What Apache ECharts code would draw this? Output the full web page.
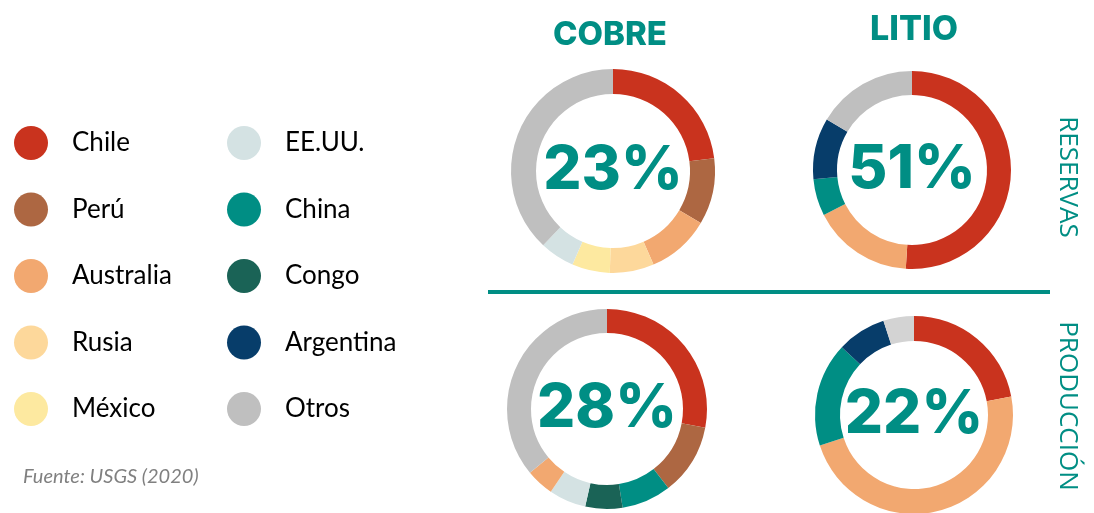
<!DOCTYPE html>
<html>
<head>
<meta charset="utf-8">
<script src="https://cdn.jsdelivr.net/npm/echarts@6/dist/echarts.min.js"></script>
<style>
  html, body { margin: 0; padding: 0; background: #fff; }
  #chart { width: 1094px; height: 513px; }
</style>
</head>
<body>
<div id="chart"></div>
<script>
// paises y colores de la leyenda
const countries = ['Chile', 'Perú', 'Australia', 'Rusia', 'México', 'EE.UU.', 'China', 'Congo', 'Argentina', 'Otros'];
const colors = ['#C9331E', '#AD6742', '#F2A870', '#FDD89B', '#FDE9A0', '#D4E2E3', '#008E84', '#1A6356', '#073D6A', '#BFBFBF'];

// porcentajes (USGS 2020)
const cobreReservasNames = ['Chile', 'Perú', 'Australia', 'Rusia', 'México', 'EE.UU.', 'Otros'];
const cobreReservas = [23, 10.5, 10, 7, 6, 5.5, 38];
const litioReservasNames = ['Chile', 'Australia', 'China', 'Argentina', 'Otros'];
const litioReservas = [51, 16.5, 6, 10, 16.5];
const cobreProduccionNames = ['Chile', 'Perú', 'China', 'Congo', 'EE.UU.', 'Australia', 'Otros'];
const cobreProduccion = [28, 11.5, 8, 6, 6, 4.5, 36];
const litioProduccionNames = ['Chile', 'Australia', 'China', 'Argentina', 'Otros'];
const litioProduccion = [22, 48, 17, 8, 5];

const teal = '#008E84';
const colorOf = name => colors[countries.indexOf(name)];

function donut(names, values, center, radius, otrosColor) {
  return {
    type: 'pie',
    center: center,
    radius: radius,
    startAngle: 90,
    clockwise: true,
    silent: true,
    emphasis: { disabled: true },
    labelLine: { show: false },
    data: names.map((n, i) => ({
      name: n,
      value: values[i],
      itemStyle: { color: (n === 'Otros' && otrosColor) ? otrosColor : colorOf(n) },
      label: {
        show: i === 0,
        position: 'center',
        formatter: p => Math.round(p.percent) + '%',
        color: teal,
        fontFamily: 'Inter',
        fontWeight: 800,
        fontSize: 60
      }
    }))
  };
}

const chart = echarts.init(document.getElementById('chart'));

const legendBase = {
  orient: 'vertical',
  icon: 'circle',
  itemWidth: 34,
  itemHeight: 34,
  itemGap: 32.5,
  top: 126,
  padding: 0,
  selectedMode: false,
  textStyle: { fontFamily: 'Lato', fontSize: 26, color: '#000', padding: [0, 0, 0, 19] }
};

chart.setOption({
  animation: false,
  color: colors,
  title: [
    { text: 'COBRE', left: 605, top: 14, textAlign: 'center',
      textStyle: { color: teal, fontFamily: 'Inter', fontWeight: 800, fontSize: 33 } },
    { text: 'LITIO', left: 909, top: 8, textAlign: 'center',
      textStyle: { color: teal, fontFamily: 'Inter', fontWeight: 800, fontSize: 34 } },
    { text: 'Fuente: USGS (2020)', left: 18, top: 462,
      textStyle: { color: '#808080', fontFamily: 'Lato', fontStyle: 'italic', fontWeight: 'normal', fontSize: 20 } }
  ],
  legend: [
    Object.assign({}, legendBase, { left: 14, data: countries.slice(0, 5) }),
    Object.assign({}, legendBase, { left: 227, data: countries.slice(5) })
  ],
  graphic: [
    { type: 'line', shape: { x1: 488, y1: 292, x2: 1050, y2: 292 },
      style: { stroke: teal, lineWidth: 4 } },
    { type: 'text', x: 1067, y: 177, rotation: -Math.PI / 2,
      style: { text: 'RESERVAS', fill: teal, font: '26px "Open Sans"', textAlign: 'center', textVerticalAlign: 'middle' } },
    { type: 'text', x: 1067, y: 406, rotation: -Math.PI / 2,
      style: { text: 'PRODUCCIÓN', fill: teal, font: '26px "Open Sans"', textAlign: 'center', textVerticalAlign: 'middle' } }
  ],
  series: [
    donut(cobreReservasNames, cobreReservas, [613, 171], [77, 102]),
    donut(litioReservasNames, litioReservas, [912, 170], [75, 99]),
    donut(cobreProduccionNames, cobreProduccion, [607, 409], [76, 100]),
    donut(litioProduccionNames, litioProduccion, [914, 415], [74, 99], '#D3D3D3')
  ]
});
</script>
</body>
</html>
